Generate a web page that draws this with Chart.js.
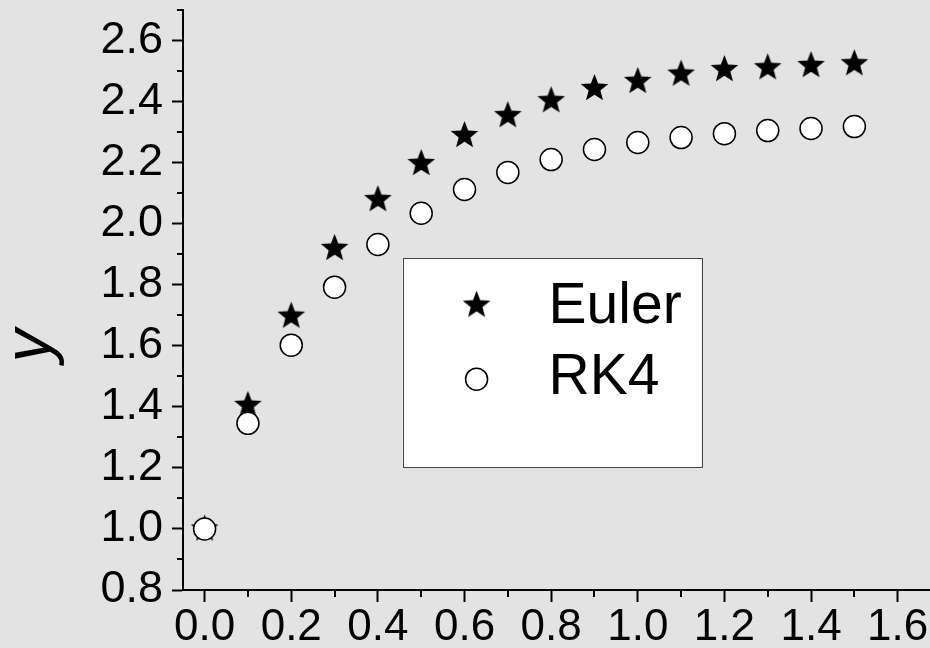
<!DOCTYPE html>
<html>
<head>
<meta charset="utf-8">
<script src="https://cdn.jsdelivr.net/npm/chart.js@4.4.1/dist/chart.umd.min.js"></script>
<style>
html,body{margin:0;padding:0;background:#e3e3e3;overflow:hidden}
#wrap{width:930px;height:648px;position:relative;overflow:hidden}
#inner{position:absolute;left:0;top:0;width:941px;height:654px}
</style>
</head>
<body>
<div id="wrap"><div id="inner"><canvas id="c"></canvas></div></div>
<script>
// data
var xVals=[0,0.1,0.2,0.3,0.4,0.5,0.6,0.7,0.8,0.9,1.0,1.1,1.2,1.3,1.4,1.5];
var eulerVals=[1.0,1.405,1.697,1.919,2.079,2.197,2.289,2.354,2.403,2.443,2.466,2.490,2.505,2.511,2.518,2.524];
var rk4Vals=[1.0,1.346,1.602,1.792,1.932,2.034,2.112,2.168,2.210,2.243,2.266,2.282,2.295,2.305,2.312,2.318];
var seriesNames=['Euler','RK4'];
var xTicks=[0,0.2,0.4,0.6,0.8,1.0,1.2,1.4,1.6];
var yTicks=[0.8,1.0,1.2,1.4,1.6,1.8,2.0,2.2,2.4,2.6];
var xMinor=[0.1,0.3,0.5,0.7,0.9,1.1,1.3,1.5];
var yMinor=[0.9,1.1,1.3,1.5,1.7,1.9,2.1,2.3,2.5,2.7];
var yTitle='y     ';

var FONT='"Liberation Sans", Arial, sans-serif';

function starImg(R,r){
    var s=Math.ceil(R*2+4);
    var cv=document.createElement('canvas');cv.width=s;cv.height=s;
    var c=cv.getContext('2d');
    c.translate(s/2,s/2);
    c.beginPath();
    for(var i=0;i<10;i++){
        var a=-Math.PI/2+i*Math.PI/5,rr=(i%2)?r:R;
        c.lineTo(rr*Math.cos(a),rr*Math.sin(a));
    }
    c.closePath();c.fillStyle='#000';c.fill();
    return cv;
}
var star=starImg(14.5,6.2);

function pts(vals){
    var out=[];
    for(var i=0;i<xVals.length;i++)out.push({x:xVals[i],y:vals[i]});
    return out;
}

// minor ticks + boxed legend
var extras={
    id:'extras',
    afterDraw:function(ch){
        var c=ch.ctx,xs=ch.scales.x,ys=ch.scales.y,ca=ch.chartArea;
        c.save();
        c.strokeStyle='#000';c.lineWidth=2;
        c.beginPath();
        for(var i=0;i<yMinor.length;i++){
            var py=Math.round(ys.getPixelForValue(yMinor[i]));
            c.moveTo(ca.left,py);c.lineTo(ca.left-6,py);
        }
        for(var j=0;j<xMinor.length;j++){
            var px=Math.round(xs.getPixelForValue(xMinor[j]));
            c.moveTo(px,ca.bottom);c.lineTo(px,ca.bottom+7);
        }
        c.stroke();

        // legend box
        var bx=xs.getPixelForValue(0.457),by=ys.getPixelForValue(1.887);
        var bw=299,bh=209;
        c.fillStyle='#fff';c.fillRect(bx,by,bw,bh);
        c.strokeStyle='#444';c.lineWidth=1;
        c.strokeRect(Math.round(bx)+0.5,Math.round(by)+0.5,bw,bh);
        var mx=bx+74;
        c.drawImage(star,mx-star.width/2,by+47-star.height/2);
        c.beginPath();c.arc(mx,by+121,11,0,Math.PI*2);
        c.fillStyle='#fff';c.fill();c.lineWidth=1.5;c.strokeStyle='#000';c.stroke();
        c.fillStyle='#000';c.font='57px '+FONT;c.textBaseline='alphabetic';c.textAlign='left';
        c.fillText(seriesNames[0],bx+146,by+65);
        c.fillText(seriesNames[1],bx+146,by+136);
        c.restore();
    }
};

var ctx=document.getElementById('c');
new Chart(ctx,{
    type:'scatter',
    data:{datasets:[
        {label:seriesNames[0],data:pts(eulerVals),pointStyle:star,order:1},
        {label:seriesNames[1],data:pts(rk4Vals),pointStyle:'circle',pointRadius:11,backgroundColor:'#fff',borderColor:'#000',borderWidth:1.5,order:0}
    ]},
    options:{
        responsive:true,maintainAspectRatio:false,animation:false,events:[],
        layout:{autoPadding:false,padding:{top:10,right:0,left:0,bottom:0}},
        plugins:{legend:{display:false},tooltip:{enabled:false}},
        scales:{
            x:{
                type:'linear',min:-0.05,max:1.7,
                afterBuildTicks:function(s){s.ticks=xTicks.map(function(v){return {value:v};});},
                grid:{drawOnChartArea:false,tickLength:12,tickWidth:2,tickColor:'#000'},
                border:{color:'#000',width:2},
                ticks:{font:{size:44,family:FONT,lineHeight:1},color:'#000',padding:4,maxRotation:0,autoSkip:false,
                    callback:function(v){return v.toFixed(1);}}
            },
            y:{
                type:'linear',min:0.8,max:2.7,
                afterBuildTicks:function(s){s.ticks=yTicks.map(function(v){return {value:v};});},
                grid:{drawOnChartArea:false,tickLength:11,tickWidth:2,tickColor:'#000'},
                border:{color:'#000',width:2},
                ticks:{font:{size:45,family:FONT,lineHeight:0.02},color:'#000',padding:9,autoSkip:false,
                    callback:function(v){return v.toFixed(1);}},
                title:{display:true,text:yTitle,color:'#000',font:{size:66,style:'italic',family:FONT,lineHeight:0.9},padding:{top:2,bottom:30}}
            }
        }
    },
    plugins:[extras]
});
</script>
</body>
</html>
